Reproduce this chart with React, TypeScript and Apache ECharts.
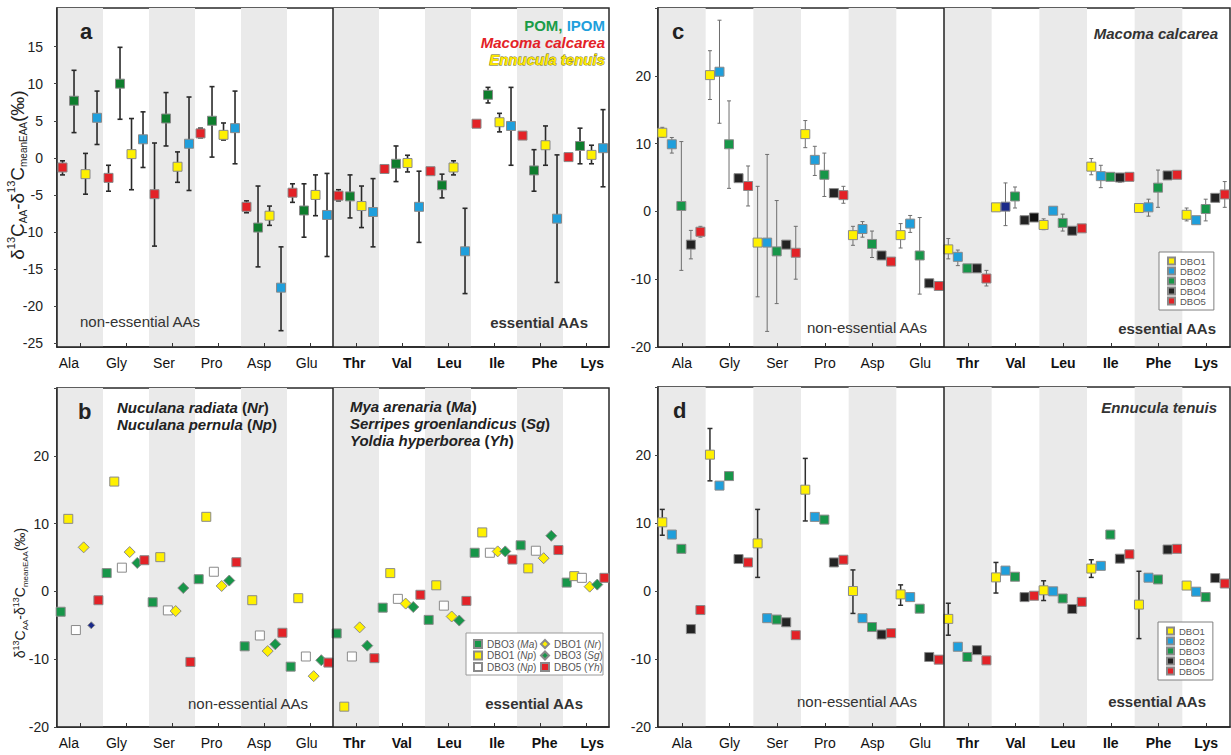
import React, { useEffect, useRef } from 'react';
import * as echarts from 'echarts';

const FONT = '"Liberation Sans", Arial, Helvetica, sans-serif';

const categories = ['Ala', 'Gly', 'Ser', 'Pro', 'Asp', 'Glu', 'Thr', 'Val', 'Leu', 'Ile', 'Phe', 'Lys'];
const FIRST_ESSENTIAL = 6;

const yTicksA = [-25, -20, -15, -10, -5, 0, 5, 10, 15];

type Triple = [number, number | null, number | null];

// Panel a: [mean, low, high]
const aMacoma: Triple[] = [[-1.3, -2.3, -0.4], [-2.7, -4.5, -1.0], [-4.9, -11.9, 2.0], [3.3, 2.7, 4.0], [-6.6, -7.4, -5.8], [-4.7, -6.0, -3.5], [-5.1, -5.8, -4.3], [-1.5, -1.8, -1.2], [-1.8, -2.1, -1.5], [4.6, 4.3, 4.9], [3.0, 2.7, 3.3], [0.1, -0.2, 0.4]];
const aPOM: Triple[] = [[7.7, 3.4, 11.8], [10.0, 5.2, 14.9], [5.3, 1.6, 8.8], [5.0, 0.1, 9.6], [-9.4, -14.7, -3.8], [-7.1, -10.7, -3.5], [-5.2, -8.1, -2.3], [-0.8, -3.2, 1.6], [-3.7, -5.4, -2.2], [8.5, 7.4, 9.5], [-1.7, -4.5, 1.1], [1.6, -0.8, 4.0]];
const aEnnucula: Triple[] = [[-2.2, -4.9, 0.6], [0.5, -4.3, 5.3], [-1.2, -3.3, 0.8], [3.1, 2.4, 4.7], [-7.8, -9.1, -6.5], [-5.0, -7.8, -2.3], [-6.5, -9.4, -3.8], [-0.7, -1.9, 0.35], [-1.3, -2.3, -0.4], [4.8, 3.5, 6.0], [1.7, -1.0, 4.3], [0.4, -0.8, 1.7]];
const aIPOM: Triple[] = [[5.4, 1.8, 9.0], [2.5, -1.3, 6.2], [1.9, -4.4, 8.2], [4.0, -0.8, 9.0], [-17.5, -23.3, -12.0], [-7.7, -13.3, -2.1], [-7.3, -12.0, -2.8], [-6.6, -11.4, -1.8], [-12.6, -18.3, -6.8], [4.3, -1.0, 9.5], [-8.2, -16.8, 0.4], [1.3, -3.9, 6.5]];

// Panel b: values only
const bMaDBO3 = [-3.0, 2.7, -1.6, 1.8, -8.1, -11.1, -6.2, -2.4, -4.2, 5.7, 6.8, 1.3];
const bNpDBO1 = [10.7, 16.2, 5.05, 11.0, -1.3, -1.0, -17.0, 2.7, 0.9, 8.7, 3.4, 2.25];
const bNpDBO3 = [-5.7, 3.5, -2.8, 2.9, -6.5, -9.6, -9.6, -1.1, -2.1, 5.7, 6.0, 2.0];
const bNrDBO1 = [6.5, 5.8, -2.9, 0.8, -8.8, -12.5, -5.3, -1.8, -3.7, 5.9, 4.9, 0.7];
const bSgDBO3 = [-5.0, 4.2, 0.5, 1.6, -7.8, -10.15, -8.0, -2.3, -4.3, 5.9, 8.2, 1.0];
const bYhDBO5 = [-1.3, 4.6, -10.4, 4.3, -6.1, -10.5, -9.85, -0.5, -1.4, 4.7, 6.1, 2.0];

// Panel c (Macoma calcarea): [mean, low, high]
const cDBO1: Triple[] = [[11.6, 10.9, 12.4], [20.1, 16.5, 23.7], [-4.6, -12.6, 3.7], [11.4, 9.4, 13.4], [-3.5, -5.0, -2.2], [-3.5, -5.4, -1.8], [-5.6, -7.0, -4.0], [0.6, 0.1, 1.1], [-2.0, -2.7, -1.1], [6.6, 5.4, 7.8], [0.5, null, null], [-0.5, -1.4, 0.5]];
const cDBO2: Triple[] = [[9.9, 8.6, 10.9], [20.6, 13.0, 28.2], [-4.6, -17.7, 8.4], [7.6, 5.3, 9.6], [-2.6, -3.8, -1.5], [-1.8, -3.1, -0.6], [-6.7, -8.0, -5.7], [0.7, -2.1, 4.2], [0.1, -0.3, 0.4], [5.2, 3.5, 6.8], [0.6, -0.7, 1.8], [-1.3, null, null]];
const cDBO3: Triple[] = [[0.8, -8.7, 10.3], [9.9, 3.4, 16.3], [-5.9, -13.6, 1.6], [5.4, 2.2, 8.6], [-4.8, -6.8, -2.9], [-6.5, -12.2, -0.9], [-8.4, null, null], [2.2, 0.5, 3.6], [-1.7, -2.9, -0.4], [5.1, null, null], [3.5, 0.6, 6.1], [0.35, -1.4, 1.8]];
const cDBO4: Triple[] = [[-4.9, -7.0, -2.8], [4.9, 4.6, 5.2], [-4.9, -5.4, -4.4], [2.7, 2.4, 2.9], [-6.5, -7.0, -6.0], [-10.6, -10.9, -10.3], [-8.4, -8.8, -8.0], [-1.3, -1.5, -1.1], [-2.85, null, null], [5.0, 4.3, 5.6], [5.3, 5.0, 5.6], [2.0, 1.7, 2.3]];
const cDBO5: Triple[] = [[-3.0, -3.8, -2.2], [3.75, 0.8, 6.7], [-6.1, -10.0, -2.2], [2.4, 1.2, 3.7], [-7.4, -7.9, -6.8], [-11.0, -11.5, -10.5], [-9.9, -11.0, -8.7], [-0.9, -1.2, -0.6], [-2.5, null, null], [5.1, 4.8, 5.4], [5.4, 5.1, 5.8], [2.5, 0.6, 4.4]];

// Panel d (Ennucula tenuis)
const dDBO1: Triple[] = [[10.1, 8.2, 12.0], [20.05, 16.2, 23.9], [7.0, 2.0, 12.0], [14.9, 10.3, 19.5], [0.0, -3.3, 3.1], [-0.5, -2.1, 0.9], [-4.1, -6.5, -1.8], [2.0, -0.3, 4.2], [0.1, -1.4, 1.5], [3.3, 2.0, 4.6], [-2.0, -7.0, 2.9], [0.8, 0.6, 1.0]];
const dDBO2 = [8.3, 15.5, -4.0, 10.9, -4.0, -0.9, -8.2, 3.0, -0.05, 3.7, 1.96, -0.1];
const dDBO3 = [6.2, 16.9, -4.2, 10.5, -5.3, -2.6, -9.7, 2.1, -1.1, 8.3, 1.7, -0.9];
const dDBO4 = [-5.6, 4.7, -4.6, 4.2, -6.4, -9.7, -8.7, -0.9, -2.65, 4.75, 6.1, 1.9];
const dDBO5 = [-2.8, 4.2, -6.5, 4.6, -6.2, -10.1, -10.2, -0.7, -1.6, 5.4, 6.2, 1.1];

const dboNames = ['DBO1', 'DBO2', 'DBO3', 'DBO4', 'DBO5'];
const bLegendLeft = ['DBO3 (Ma)', 'DBO1 (Np)', 'DBO3 (Np)'];
const bLegendRight = ['DBO1 (Nr)', 'DBO3 (Sg)', 'DBO5 (Yh)'];

// style constants
const COL = {
  red: '#e32227',
  greenA: '#0e7d2d',
  green: '#179649',
  blue: '#1f9fdc',
  yellow: '#fff100',
  black: '#232323',
  navy: '#1b2a8a',
  white: '#ffffff',
};

const offsetsA = [0.12, 0.37, 0.62, 0.87];
const offsetsB = [0.08, 0.245, 0.41, 0.58, 0.745, 0.9];
const offsetsCD = [0.09, 0.29, 0.49, 0.69, 0.89];

type Override = { panel: string; series: number; index: number; color: string; size?: number };
const overrides: Override[] = [
  { panel: 'c', series: 1, index: 7, color: COL.navy },
  { panel: 'c', series: 4, index: 7, color: '#111111' },
  { panel: 'b', series: 4, index: 0, color: COL.navy, size: 7 },
];

const catData = categories.map((c, i) =>
  i >= FIRST_ESSENTIAL ? { value: c, textStyle: { fontWeight: 'bold' } } : c
);

function catAxis(gi: number, showLabels: boolean, showAxis: boolean) {
  return {
    type: 'category',
    gridIndex: gi,
    position: 'bottom',
    data: catData,
    boundaryGap: true,
    axisLine: { show: showAxis, onZero: false, lineStyle: { color: '#222', width: 1.5 } },
    axisTick: { show: showAxis, inside: true, length: 4, alignWithLabel: true, interval: 0, lineStyle: { color: '#333', width: 1 } },
    axisLabel: { show: showLabels, interval: 0, margin: 9, fontSize: 14, color: '#111', fontFamily: FONT },
    splitArea: { show: showAxis, interval: 0, areaStyle: { color: ['#eaeaea', 'rgba(255,255,255,0)'] } },
    splitLine: { show: false },
  };
}

function valXAxis(gi: number) {
  return { type: 'value', gridIndex: gi, min: 0, max: 12, show: false, axisLine: { onZero: false }, splitLine: { show: false } };
}

function yAxisBase(gi: number, margin: number) {
  return {
    type: 'value',
    gridIndex: gi,
    axisLine: { show: true, onZero: false, lineStyle: { color: '#222', width: 1.5 } },
    axisTick: { show: true, inside: false, length: 3, lineStyle: { color: '#444' } },
    axisLabel: { margin, fontSize: 14, color: '#222', fontFamily: FONT } as any,
    splitLine: { show: false },
  } as any;
}

function scatter(panel: string, gi: number, sIdx: number, name: string, values: number[], offset: number, color: string, symbol = 'rect', size = 9, divider = false) {
  const data = values.map((v, i) => {
    const o = overrides.find((q) => q.panel === panel && q.series === sIdx && q.index === i);
    const value = [i + offset, v];
    if (!o) return value;
    const item: any = { value, itemStyle: { color: o.color } };
    if (o.size) item.symbolSize = o.size;
    return item;
  });
  const s: any = {
    type: 'scatter',
    name,
    xAxisIndex: gi * 2 + 1,
    yAxisIndex: gi,
    symbol,
    symbolSize: size,
    itemStyle: { color, borderColor: '#8a8a8a', borderWidth: 1, opacity: 1 },
    data,
    z: 4,
    silent: true,
    emphasis: { disabled: true },
  };
  if (divider) {
    s.markLine = {
      silent: true,
      symbol: ['none', 'none'],
      label: { show: false },
      lineStyle: { color: '#222', width: 1.5, type: 'solid' },
      data: [{ xAxis: FIRST_ESSENTIAL }],
      z: 5,
    };
  }
  return s;
}

function errBars(gi: number, key: string, triples: Triple[], offset: number, color: string, width: number, cap: number) {
  const data = triples
    .map((t, i) => (t[1] == null || t[2] == null ? null : [i + offset, t[1], t[2]]))
    .filter((d) => d !== null);
  return {
    type: 'custom',
    name: 'err-' + key,
    xAxisIndex: gi * 2 + 1,
    yAxisIndex: gi,
    z: 3,
    silent: true,
    encode: { x: 0, y: [1, 2] },
    renderItem: (params: any, api: any) => {
      const x = api.value(0);
      const lo = api.coord([x, api.value(1)]);
      const hi = api.coord([x, api.value(2)]);
      const style = { stroke: color, lineWidth: width };
      return {
        type: 'group',
        children: [
          { type: 'line', shape: { x1: lo[0], y1: lo[1], x2: hi[0], y2: hi[1] }, style },
          { type: 'line', shape: { x1: lo[0] - cap, y1: lo[1], x2: lo[0] + cap, y2: lo[1] }, style },
          { type: 'line', shape: { x1: hi[0] - cap, y1: hi[1], x2: hi[0] + cap, y2: hi[1] }, style },
        ],
      };
    },
    data,
  };
}

function txt(x: number, y: number, text: string, opts: any = {}) {
  return {
    type: 'text',
    x,
    y,
    z: 10,
    silent: true,
    style: { text, fontFamily: FONT, fontSize: 15, align: 'left', verticalAlign: 'middle', fill: '#222', ...opts },
  };
}

function yTitle(x: number, y: number, m: number, s: number, b: number) {
  const base = { fontFamily: FONT, fill: '#222', color: '#222' };
  return {
    type: 'text',
    x,
    y,
    rotation: Math.PI / 2,
    z: 10,
    silent: true,
    style: {
      text: '{m|δ}{s|13}{m|C}{b|AA}{m|-δ}{s|13}{m|C}{b|meanEAA}{m|(‰)}',
      align: 'center',
      verticalAlign: 'middle',
      fontFamily: FONT,
      fontSize: m,
      fill: '#222',
      rich: {
        m: { ...base, fontSize: m, lineHeight: m + 4 },
        s: { ...base, fontSize: s, lineHeight: s, verticalAlign: 'top' },
        b: { ...base, fontSize: b, lineHeight: b, verticalAlign: 'bottom' },
      },
    },
  };
}

function legendRichFormatter(name: string) {
  const m = name.match(/^(.*\()(.*)(\))$/);
  if (!m) return name;
  return `{n|${m[1]}}{i|${m[2]}}{n|)}`;
}

function buildOption() {
  const grid = [
    { left: 57, top: 8, width: 552, height: 339 },
    { left: 57, top: 388, width: 552, height: 339 },
    { left: 658, top: 8, width: 572, height: 339 },
    { left: 658, top: 387, width: 572, height: 340 },
    { left: 45, top: 8, width: 571, height: 339 },
    { left: 45, top: 388, width: 571, height: 339 },
  ].map((g, i) => ({
    ...g,
    containLabel: false,
    outerBoundsMode: 'none',
    show: i < 4,
    borderColor: '#2a2a2a',
    borderWidth: 1.5,
    backgroundColor: 'transparent',
  }));

  const xAxis = [
    catAxis(0, false, true), valXAxis(0),
    catAxis(1, false, true), valXAxis(1),
    catAxis(2, true, true), valXAxis(2),
    catAxis(3, true, true), valXAxis(3),
    catAxis(4, true, false),
    catAxis(5, true, false),
  ];

  const yA = yAxisBase(0, 14);
  yA.min = -25.5;
  yA.max = 20.2;
  yA.axisLabel.customValues = yTicksA;
  yA.axisTick.customValues = yTicksA;

  const mkY = (gi: number, margin: number) => {
    const y = yAxisBase(gi, margin);
    y.min = -20;
    y.max = 30;
    y.interval = 10;
    y.axisLabel.formatter = (v: number) => (v === 30 ? '' : String(v));
    return y;
  };

  const yAxis = [
    yA,
    mkY(1, 8),
    mkY(2, 7),
    mkY(3, 7),
    { type: 'value', gridIndex: 4, show: false, splitLine: { show: false } },
    { type: 'value', gridIndex: 5, show: false, splitLine: { show: false } },
  ];

  const series: any[] = [];

  // panel a
  const aDefs = [
    { name: 'Macoma calcarea', data: aMacoma, color: COL.red },
    { name: 'POM', data: aPOM, color: COL.greenA },
    { name: 'Ennucula tenuis', data: aEnnucula, color: COL.yellow },
    { name: 'IPOM', data: aIPOM, color: COL.blue },
  ];
  aDefs.forEach((d, s) => {
    series.push(errBars(0, 'a' + s, d.data, offsetsA[s], '#2a2a2a', 1.6, 2.5));
    series.push(scatter('a', 0, s, d.name, d.data.map((t) => t[0]), offsetsA[s], d.color, 'rect', 9, s === 0));
  });

  // panel b
  const bDefs = [
    { name: bLegendLeft[0], data: bMaDBO3, color: COL.green, symbol: 'rect', size: 9 },
    { name: bLegendLeft[1], data: bNpDBO1, color: COL.yellow, symbol: 'rect', size: 9 },
    { name: bLegendLeft[2], data: bNpDBO3, color: COL.white, symbol: 'rect', size: 9 },
    { name: bLegendRight[0], data: bNrDBO1, color: COL.yellow, symbol: 'diamond', size: 11 },
    { name: bLegendRight[1], data: bSgDBO3, color: COL.green, symbol: 'diamond', size: 11 },
    { name: bLegendRight[2], data: bYhDBO5, color: COL.red, symbol: 'rect', size: 9 },
  ];
  bDefs.forEach((d, s) => {
    series.push(scatter('b', 1, s, d.name, d.data, offsetsB[s], d.color, d.symbol, d.size, s === 0));
  });

  // panel c
  const cColors = [COL.yellow, COL.blue, COL.green, COL.black, COL.red];
  const cData = [cDBO1, cDBO2, cDBO3, cDBO4, cDBO5];
  cData.forEach((d, s) => {
    series.push(errBars(2, 'c' + s, d, offsetsCD[s], '#6e6e6e', 1, 2));
    series.push(scatter('c', 2, s, dboNames[s], d.map((t) => t[0]), offsetsCD[s], cColors[s], 'rect', 9, s === 0));
  });

  // panel d
  const dValues = [dDBO1.map((t) => t[0]), dDBO2, dDBO3, dDBO4, dDBO5];
  series.push(errBars(3, 'd0', dDBO1, offsetsCD[0], '#2e2e2e', 1.5, 2.5));
  dValues.forEach((d, s) => {
    series.push(scatter('d', 3, s, dboNames[s], d, offsetsCD[s], cColors[s], 'rect', 9, s === 0));
  });

  const legendText = { fontSize: 9.5, color: '#555', fontFamily: FONT };
  const bRich = {
    n: { fontSize: 10, lineHeight: 8.5, color: '#555', fontFamily: FONT },
    i: { fontSize: 10, lineHeight: 8.5, color: '#555', fontFamily: FONT, fontStyle: 'italic' },
  };
  const legend = [
    {
      data: dboNames, orient: 'vertical', left: 1159, top: 252, padding: [4, 8, 4, 8],
      itemWidth: 7, itemHeight: 7, itemGap: 0, borderColor: '#808080', borderWidth: 1,
      backgroundColor: '#fff', textStyle: legendText, selectedMode: false, z: 6,
    },
    {
      data: dboNames, orient: 'vertical', left: 1158, top: 622, padding: [4, 8, 4, 8],
      itemWidth: 7, itemHeight: 7, itemGap: 0, borderColor: '#808080', borderWidth: 1,
      backgroundColor: '#fff', textStyle: legendText, selectedMode: false, z: 6,
    },
    {
      data: bLegendLeft, orient: 'vertical', left: 473, top: 639, padding: 0,
      itemWidth: 8, itemHeight: 8, itemGap: 1.5, formatter: legendRichFormatter,
      textStyle: { ...bRich.n, rich: bRich }, selectedMode: false, z: 6,
    },
    {
      data: bLegendRight, orient: 'vertical', left: 540, top: 639, padding: 0,
      itemWidth: 8, itemHeight: 8, itemGap: 1.5, formatter: legendRichFormatter,
      textStyle: { ...bRich.n, rich: bRich }, selectedMode: false, z: 6,
    },
  ];

  const bi = { fontSize: 15, fontWeight: 'bold', fontStyle: 'italic', fontFamily: FONT, fill: '#222', color: '#222' };
  const bn = { fontSize: 15, fontWeight: 'bold', fontFamily: FONT, fill: '#222', color: '#222' };
  const species = (x: number, y: number, name: string, abbr: string) =>
    txt(x, y, `{i|${name} }{n|(}{i|${abbr}}{n|)}`, { rich: { i: bi, n: bn } });

  const elements: any[] = [
    // panel a
    txt(80, 31, 'a', { fontSize: 22, fontWeight: 'bold' }),
    txt(605, 25, '{g|POM, }{b|IPOM}', {
      align: 'right',
      rich: {
        g: { fontSize: 15, fontWeight: 'bold', fontFamily: FONT, fill: '#1a9c48', color: '#1a9c48' },
        b: { fontSize: 15, fontWeight: 'bold', fontFamily: FONT, fill: COL.blue, color: COL.blue },
      },
    }),
    txt(605, 42, 'Macoma calcarea', { align: 'right', fontWeight: 'bold', fontStyle: 'italic', fill: COL.red }),
    txt(605, 59, 'Ennucula tenuis', { align: 'right', fontWeight: 'bold', fontStyle: 'italic', fill: '#ffe800', stroke: '#6a6a10', lineWidth: 0.8 }),
    txt(80, 321, 'non-essential AAs', { fill: '#333' }),
    txt(588, 322, 'essential AAs', { align: 'right', fontWeight: 'bold', fill: '#333' }),
    yTitle(17, 175, 19, 11, 10),
    // panel b
    txt(78, 411, 'b', { fontSize: 22, fontWeight: 'bold' }),
    species(117, 407, 'Nuculana radiata', 'Nr'),
    species(117, 424, 'Nuculana pernula', 'Np'),
    species(350, 406, 'Mya arenaria', 'Ma'),
    species(350, 423, 'Serripes groenlandicus', 'Sg'),
    species(350, 440, 'Yoldia hyperborea', 'Yh'),
    txt(188, 703, 'non-essential AAs', { fill: '#333' }),
    txt(583, 703, 'essential AAs', { align: 'right', fontWeight: 'bold', fill: '#333' }),
    yTitle(20, 593, 14, 9, 8),
    {
      type: 'rect', z: 1, silent: true,
      shape: { x: 466, y: 633, width: 137, height: 42 },
      style: { fill: '#fff', stroke: '#9a9a9a', lineWidth: 1 },
    },
    // panel c
    txt(672, 31, 'c', { fontSize: 22, fontWeight: 'bold' }),
    txt(1218, 33, 'Macoma calcarea', { align: 'right', fontWeight: 'bold', fontStyle: 'italic', fill: '#333' }),
    txt(807, 327, 'non-essential AAs', { fill: '#333' }),
    txt(1216, 328, 'essential AAs', { align: 'right', fontWeight: 'bold', fill: '#333' }),
    // panel d
    txt(673, 410, 'd', { fontSize: 22, fontWeight: 'bold' }),
    txt(1217, 407, 'Ennucula tenuis', { align: 'right', fontWeight: 'bold', fontStyle: 'italic', fill: '#333' }),
    txt(797, 701, 'non-essential AAs', { fill: '#333' }),
    txt(1206, 701, 'essential AAs', { align: 'right', fontWeight: 'bold', fill: '#333' }),
  ];

  return {
    animation: false,
    backgroundColor: '#ffffff',
    textStyle: { fontFamily: FONT },
    grid,
    xAxis,
    yAxis,
    legend,
    series,
    graphic: { elements },
  };
}

export default function App() {
  const ref = useRef<HTMLDivElement>(null);
  useEffect(() => {
    if (!ref.current) return;
    const chart = echarts.init(ref.current, null, { renderer: 'svg' });
    chart.setOption(buildOption() as any);
    return () => chart.dispose();
  }, []);
  return (
    <div
      ref={ref}
      style={{ position: 'absolute', left: 0, top: 0, width: 1231, height: 755, background: '#fff' }}
    />
  );
}
